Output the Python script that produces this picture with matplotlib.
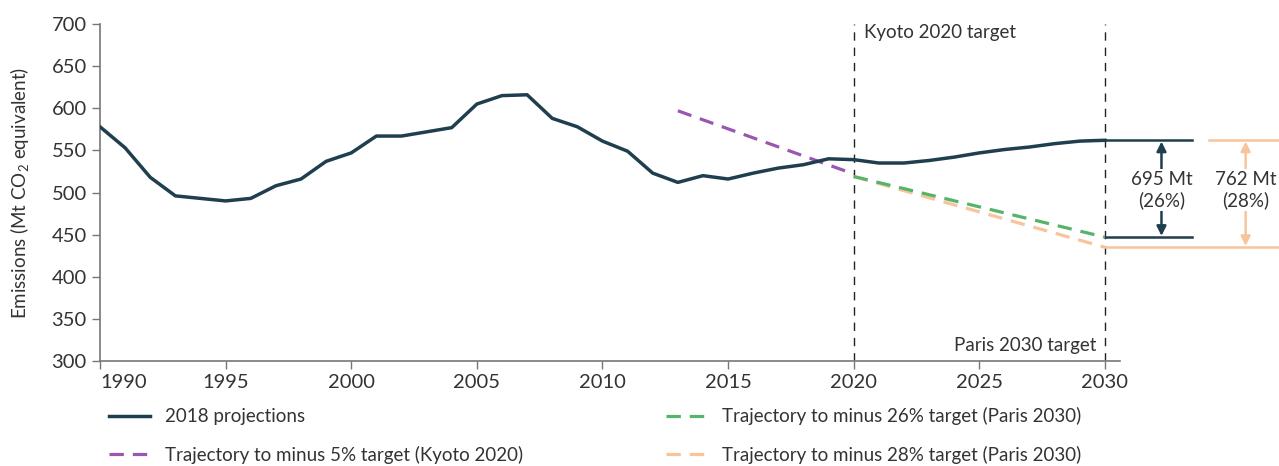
import matplotlib
matplotlib.use('Agg')
import matplotlib.pyplot as plt

plt.rcParams['font.family'] = ['Lato', 'DejaVu Sans']
plt.rcParams['mathtext.fontset'] = 'custom'
plt.rcParams['mathtext.rm'] = 'Lato'
plt.rcParams['mathtext.default'] = 'rm'

# 2018 projections (Mt CO2 equivalent)
years = list(range(1990, 2031))
emissions = [578, 553, 518, 496, 493, 490, 493, 508, 516, 537,
             547, 567, 567, 572, 577, 605, 615, 616, 588, 578,
             561, 549, 523, 512, 520, 516, 523, 529, 533, 540,
             539, 535, 535, 538, 542, 547, 551, 554, 558, 561,
             562]

# target trajectories (end points)
kyoto_years = [2013, 2020]
kyoto_vals = [597, 522]
paris26_years = [2020, 2030]
paris26_vals = [519, 447]
paris28_years = [2020, 2030]
paris28_vals = [519, 435]

gap26_label = '695 Mt\n(26%)'
gap28_label = '762 Mt\n(28%)'

c_dark = '#1f3f4f'
c_purple = '#9a56b0'
c_green = '#55b46a'
c_peach = '#f8c499'
c_text = '#333333'
fs = 13.5

fig = plt.figure(figsize=(12.79, 4.66), dpi=100)
ax = fig.add_axes([0.0782, 0.2253, 0.7975, 0.7232])

ax.plot(years, emissions, color=c_dark, lw=2.5, label='2018 projections', zorder=4)
dash = (0, (4.5, 2.8))
ax.plot(kyoto_years, kyoto_vals, color=c_purple, lw=2.3, linestyle=dash,
        label='Trajectory to minus 5% target (Kyoto 2020)', zorder=3)
ax.plot(paris28_years, paris28_vals, color=c_peach, lw=2.3, linestyle=dash,
        label='Trajectory to minus 28% target (Paris 2030)', zorder=3)
ax.plot(paris26_years, paris26_vals, color=c_green, lw=2.3, linestyle=dash,
        label='Trajectory to minus 26% target (Paris 2030)', zorder=3)

# target year markers
for yr in [2020, 2030]:
    ax.axvline(yr, color='#222222', lw=1.0, linestyle=(0, (6, 5)), zorder=2)
ax.text(2020.4, 690, 'Kyoto 2020 target', fontsize=fs, color=c_text,
        va='center', ha='left')
ax.text(2029.65, 318, 'Paris 2030 target', fontsize=fs, color=c_text,
        va='center', ha='right')

# gap annotations beyond 2030
end_val = emissions[-1]
ax.plot([2030, 2033.45], [end_val, end_val], color=c_dark, lw=1.8, clip_on=False)
ax.plot([2030, 2033.45], [paris26_vals[-1], paris26_vals[-1]], color=c_dark, lw=1.8, clip_on=False)
ax.plot([2034.15, 2036.95], [end_val, end_val], color=c_peach, lw=1.8, clip_on=False)
ax.plot([2030, 2036.95], [paris28_vals[-1], paris28_vals[-1]], color=c_peach, lw=1.8, clip_on=False)

ax.annotate('', xy=(2032.25, end_val - 1.5), xytext=(2032.25, paris26_vals[-1] + 1.5),
            arrowprops=dict(arrowstyle='<|-|>', color=c_dark, lw=1.8,
                            mutation_scale=14, shrinkA=0, shrinkB=0),
            annotation_clip=False)
ax.annotate('', xy=(2035.6, end_val - 1.5), xytext=(2035.6, paris28_vals[-1] + 1.5),
            arrowprops=dict(arrowstyle='<|-|>', color=c_peach, lw=1.8,
                            mutation_scale=14, shrinkA=0, shrinkB=0),
            annotation_clip=False)
ax.text(2032.25, 503, gap26_label, ha='center', va='center', fontsize=fs,
        color=c_text, linespacing=1.2, clip_on=False,
        bbox=dict(facecolor='white', edgecolor='none', pad=1.5), zorder=6)
ax.text(2035.6, 503, gap28_label, ha='center', va='center', fontsize=fs,
        color=c_text, linespacing=1.2, clip_on=False,
        bbox=dict(facecolor='white', edgecolor='none', pad=1.5), zorder=6)

# axes styling
ax.set_xlim(1990, 2030.6)
ax.set_ylim(300, 700)
ax.set_yticks(range(300, 701, 50))
ax.set_xticks(range(1990, 2031, 5))
ax.set_ylabel('Emissions (Mt CO$_2$ equivalent)', fontsize=fs, color=c_text,
              labelpad=15)
for s in ['top', 'right']:
    ax.spines[s].set_visible(False)
for s in ['left', 'bottom']:
    ax.spines[s].set_color('#777777')
    ax.spines[s].set_linewidth(1.2)
ax.tick_params(axis='both', colors='#777777', labelcolor=c_text, labelsize=14.5,
               length=6, width=1.0)
ax.get_xticklabels()[0].set_horizontalalignment('left')

h, l = ax.get_legend_handles_labels()
order = [0, 1, 3, 2]
fig.legend([h[i] for i in order], [l[i] for i in order], ncol=2,
           loc='lower left', bbox_to_anchor=(0.072, -0.032), frameon=False,
           fontsize=fs, handlelength=2.2, handletextpad=0.8,
           columnspacing=7.6, labelspacing=1.1, labelcolor=c_text)

fig.savefig('out.png', dpi=100)
